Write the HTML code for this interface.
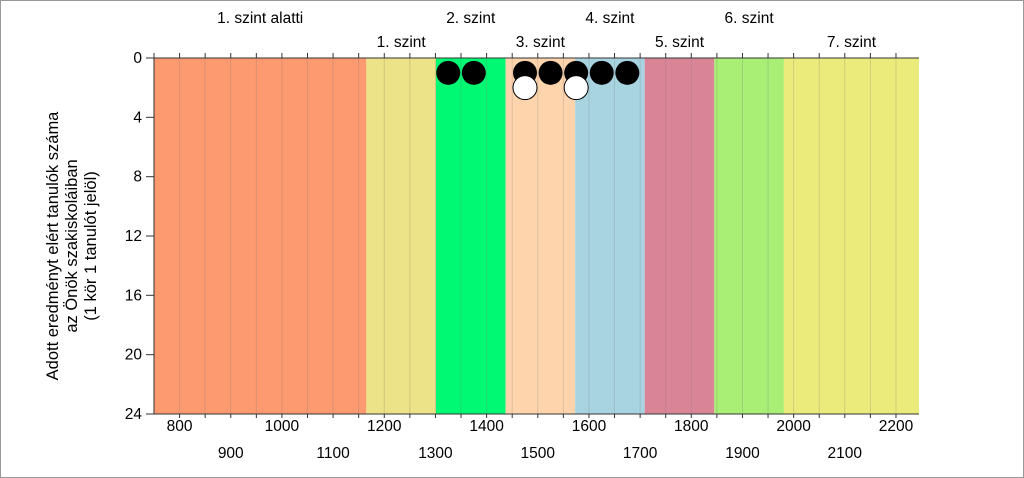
<!DOCTYPE html>
<html><head><meta charset="utf-8"><style>
html,body{margin:0;padding:0;background:#fff;}
svg{display:block;font-family:"Liberation Sans",Arial,sans-serif;}
</style></head><body>
<svg id="chart" width="1024" height="478" viewBox="0 0 1024 478">
<rect x="0.5" y="0.5" width="1023" height="477" fill="#fff" stroke="#999"/>
<g id="bands"></g><g id="grid"></g><g id="axes"></g><g id="dots"></g><g id="labels"></g>
<text transform="translate(75,246) rotate(-90)" text-anchor="middle" font-size="16.5" fill="#000">
<tspan x="0" dy="-17">Adott eredményt elért tanulók száma</tspan><tspan x="0" dy="19">az Önök szakiskoláiban</tspan><tspan x="0" dy="19">(1 kör 1 tanulót jelöl)</tspan></text>
</svg>
<script>
const levelNames=["1. szint alatti","1. szint","2. szint","3. szint","4. szint","5. szint","6. szint","7. szint"];
const levelBounds=[750,1165,1301,1437,1573,1709,1845,1981,2245];
const levelColors=["#fd9a70","#ece287","#00f973","#fed4ac","#a8d4e2","#d98597","#a9ef76","#ebeb7b"];
const blackX=[1325,1375,1475,1525,1575,1625,1675];
const blackY=[1,1,1,1,1,1,1];
const whiteX=[1475,1575];
const whiteY=[2,2];
const xTicks=[800,900,1000,1100,1200,1300,1400,1500,1600,1700,1800,1900,2000,2100,2200];
const yTicks=[0,4,8,12,16,20,24];
const NS="http://www.w3.org/2000/svg";
const L=154,R=919,T=58,B=414;
const xs=v=>L+(v-750)/(2245-750)*(R-L);
const ys=v=>T+v/24*(B-T);
function mk(tag,attrs,parent,txt){const e=document.createElementNS(NS,tag);for(const k in attrs)e.setAttribute(k,attrs[k]);if(txt!==undefined)e.textContent=txt;document.getElementById(parent).appendChild(e);return e;}
levelColors.forEach((c,i)=>{
 const r=mk('rect',{x:xs(levelBounds[i]),y:T,width:xs(levelBounds[i+1])-xs(levelBounds[i]),height:B-T,fill:c},'bands');
 
 
 const cx=(xs(levelBounds[i])+xs(levelBounds[i+1]))/2;
 const t=mk('text',{x:cx,y:i%2===0?23:47,'text-anchor':'middle','font-size':15.5},'labels',levelNames[i]);
 
 
});
for(let v=800;v<2245;v+=50){
 const g=mk('line',{x1:xs(v),x2:xs(v),y1:T,y2:B,stroke:'rgba(120,120,120,0.25)','stroke-width':1},'grid');
 
 
 const t1=mk('line',{x1:xs(v),x2:xs(v),y1:T-5,y2:T,stroke:'#333'},'axes');
 
 
 const t2=mk('line',{x1:xs(v),x2:xs(v),y1:B,y2:B+4,stroke:'#333'},'axes');
 
 
}
const ax=mk('path',{d:`M${L},${T-5}V${B}M${L-8},${T}H${R}M${L-8},${B}H${R}`,stroke:'#333',fill:'none'},'axes');


xTicks.forEach((v,i)=>{
 const t=mk('text',{x:xs(v),y:i%2===0?431:458,'text-anchor':'middle','font-size':15.5},'axes',String(v));
 
 
});
yTicks.forEach(v=>{
 const t=mk('text',{x:142,y:ys(v)+5,'text-anchor':'end','font-size':15.5},'axes',String(v));
 
 
 const tk=mk('line',{x1:L-8,x2:L,y1:ys(v),y2:ys(v),stroke:'#333'},'axes');
 
 
});
blackX.forEach((v,i)=>{
 const c=mk('circle',{cx:xs(v),cy:ys(blackY[i]),r:12,fill:'#000'},'dots');
 
 
});
whiteX.forEach((v,i)=>{
 const c=mk('circle',{cx:xs(v),cy:ys(whiteY[i]),r:12,fill:'#fff',stroke:'#000','stroke-width':1},'dots');
 
 
});
</script>
</body></html>
